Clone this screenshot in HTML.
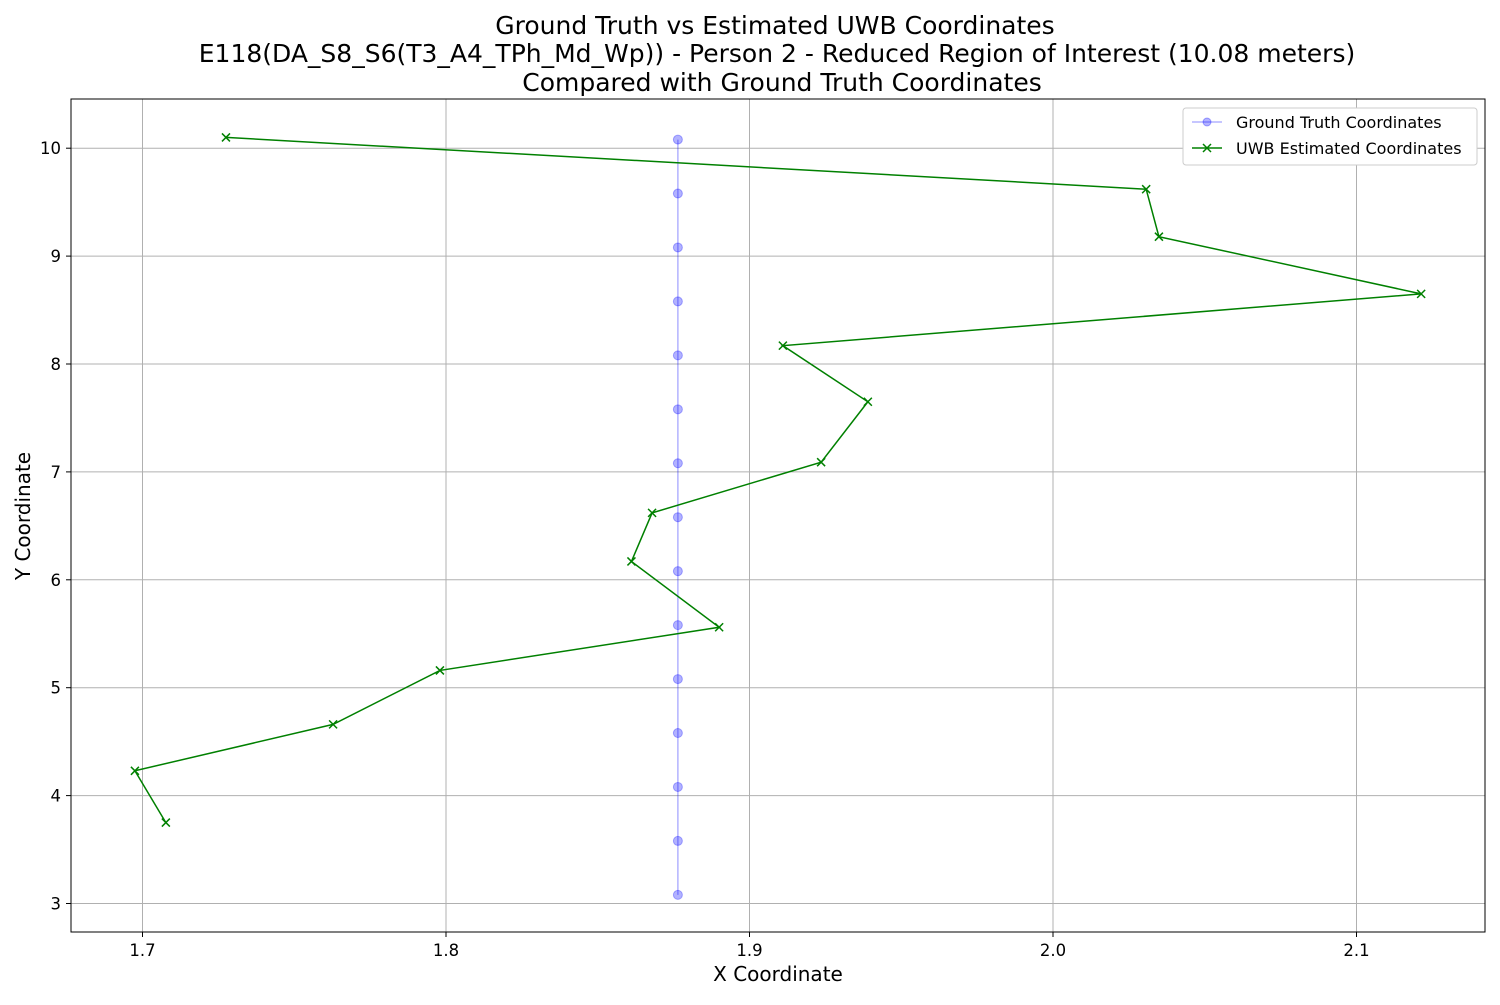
<!DOCTYPE html>
<html><head><meta charset="utf-8"><style>
body{margin:0;background:#fff;font-family:"Liberation Sans","DejaVu Sans",sans-serif}
svg text{font-family:"DejaVu Sans","Liberation Sans",sans-serif}
</style></head><body>
<svg id="chart" width="1500" height="1000" xmlns="http://www.w3.org/2000/svg">
<rect width="1500" height="1000" fill="#fff"/>
<g id="grid"></g><g id="ticks"></g><g id="series"></g>
<rect x="71" y="99" width="1414" height="833" fill="none" stroke="#000" stroke-width="1"/>
<text x="775" y="34" font-size="25" text-anchor="middle">Ground Truth vs Estimated UWB Coordinates</text>
<text x="777" y="62" font-size="25" text-anchor="middle">E118(DA_S8_S6(T3_A4_TPh_Md_Wp)) - Person 2 - Reduced Region of Interest (10.08 meters)</text>
<text x="782" y="91" font-size="25" text-anchor="middle">Compared with Ground Truth Coordinates</text>
<text x="778" y="981" font-size="20" text-anchor="middle">X Coordinate</text>
<text x="30" y="516" font-size="20" text-anchor="middle" transform="rotate(-90 30 516)">Y Coordinate</text>
<g>
<rect x="1183" y="108" width="294" height="57" rx="3" fill="#fff" stroke="#ccc"/>
<line x1="1192" y1="122" x2="1222" y2="122" stroke="#0000ff" stroke-opacity="0.3" stroke-width="1.5"/>
<circle cx="1207" cy="122" r="4" fill="#0000ff" fill-opacity="0.3" stroke="#0000ff" stroke-opacity="0.3"/>
<text x="1236" y="128" font-size="16">Ground Truth Coordinates</text>
<line x1="1192" y1="148" x2="1222" y2="148" stroke="#008000" stroke-width="1.5"/>
<path d="M1203,144L1211,152M1211,144L1203,152" stroke="#008000" stroke-width="1.5"/>
<text x="1236" y="154" font-size="16">UWB Estimated Coordinates</text>
</g>
</svg>
<script>
const xTicks=[1.7,1.8,1.9,2.0,2.1];
const yTicks=[3,4,5,6,7,8,9,10];
const gtX=[1.8764,1.8764,1.8764,1.8764,1.8764,1.8764,1.8764,1.8764,1.8764,1.8764,1.8764,1.8764,1.8764,1.8764,1.8764];
const gtY=[3.08,3.58,4.08,4.58,5.08,5.58,6.08,6.58,7.08,7.58,8.08,8.58,9.08,9.58,10.08];
const uwbX=[1.7275,2.0307,2.0349,2.1213,1.9110,1.9390,1.9236,1.8679,1.8611,1.8900,1.7980,1.7628,1.6975,1.7077];
const uwbY=[10.10,9.62,9.18,8.65,8.17,7.65,7.09,6.62,6.17,5.56,5.16,4.66,4.23,3.75];
const NS="http://www.w3.org/2000/svg";
const sx=v=>142.5+(v-1.7)*3035;
const sy=v=>903.5-(v-3)*107.9;
function mk(p,t,a){const e=document.createElementNS(NS,t);for(const k in a)e.setAttribute(k,a[k]);p.appendChild(e);return e;}
const grid=document.getElementById('grid'),ticks=document.getElementById('ticks'),ser=document.getElementById('series');
xTicks.forEach(v=>{const x=sx(v);
const g=mk(grid,'line',{x1:x,x2:x,y1:99,y2:932,stroke:'#b0b0b0','stroke-width':1});


mk(ticks,'line',{x1:x,x2:x,y1:932,y2:937,stroke:'#000'});
const t=mk(ticks,'text',{x:x,y:956,'font-size':16.5,'text-anchor':'middle'});t.textContent=v.toFixed(1);

});
yTicks.forEach(v=>{const y=sy(v);
const g=mk(grid,'line',{x1:71,x2:1485,y1:y,y2:y,stroke:'#b0b0b0','stroke-width':1});


mk(ticks,'line',{x1:66,x2:71,y1:y,y2:y,stroke:'#000'});
const t=mk(ticks,'text',{x:61,y:y+6,'font-size':16.5,'text-anchor':'end'});t.textContent=v;

});
const gl=mk(ser,'polyline',{points:gtX.map((x,i)=>sx(x)+','+sy(gtY[i])).join(' '),fill:'none',stroke:'#0000ff','stroke-opacity':0.3,'stroke-width':1.5});


gtX.forEach((x,i)=>{const c=mk(ser,'circle',{cx:sx(x),cy:sy(gtY[i]),r:4.5,fill:'#0000ff','fill-opacity':0.3,stroke:'#0000ff','stroke-opacity':0.3});

});
const ul=mk(ser,'polyline',{points:uwbX.map((x,i)=>sx(x)+','+sy(uwbY[i])).join(' '),fill:'none',stroke:'#008000','stroke-width':1.5});


uwbX.forEach((x,i)=>{const X=sx(x),Y=sy(uwbY[i]);
const m=mk(ser,'path',{d:`M${X-4},${Y-4}L${X+4},${Y+4}M${X+4},${Y-4}L${X-4},${Y+4}`,stroke:'#008000','stroke-width':1.5});

});
</script>
</body></html>
